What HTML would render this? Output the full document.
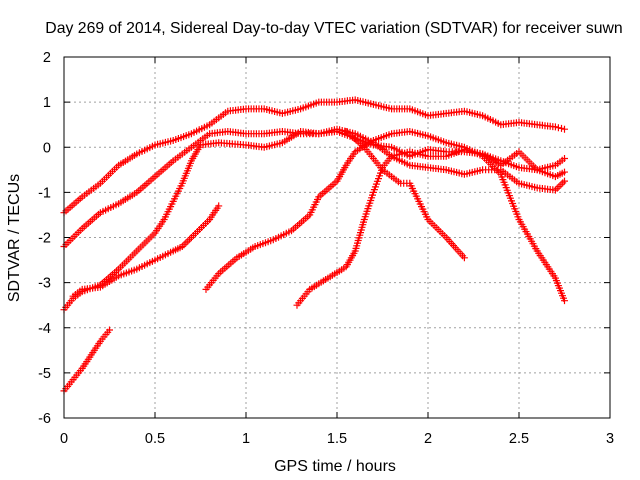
<!DOCTYPE html>
<html><head><meta charset="utf-8"><style>
html,body{margin:0;padding:0;background:#fff}
svg{display:block;font-family:"Liberation Sans",sans-serif}
</style></head><body>
<svg id="chart" width="640" height="480" viewBox="0 0 640 480">
<rect width="640" height="480" fill="#fff"/>
<g id="grid"></g>
<g id="series"></g>
<rect x="64" y="57" width="546" height="361" fill="none" stroke="#000" stroke-width="1"/>
<g id="ticks"></g>
<text x="334" y="33" text-anchor="middle" font-size="15.8" fill="#000">Day 269 of 2014, Sidereal Day-to-day VTEC variation (SDTVAR) for receiver suwn</text>
<text x="335" y="471" text-anchor="middle" font-size="16">GPS time / hours</text>
<text x="19" y="238" text-anchor="middle" font-size="16" transform="rotate(-90 19 238)">SDTVAR / TECUs</text>
</svg>
<script>
const xTicks=[0,0.5,1,1.5,2,2.5,3];
const xTickLabels=["0","0.5","1","1.5","2","2.5","3"];
const yTicks=[2,1,0,-1,-2,-3,-4,-5,-6];
const yTickLabels=["2","1","0","-1","-2","-3","-4","-5","-6"];
const seriesA=[[0,-1.45],[0.1,-1.1],[0.2,-0.8],[0.3,-0.4],[0.4,-0.15],[0.5,0.05],[0.6,0.15],[0.7,0.3],[0.8,0.5],[0.9,0.8],[1.0,0.85],[1.1,0.85],[1.2,0.75],[1.3,0.85],[1.4,1.0],[1.5,1.0],[1.6,1.05],[1.7,0.95],[1.8,0.85],[1.9,0.85],[2.0,0.7],[2.1,0.75],[2.2,0.8],[2.3,0.7],[2.4,0.5],[2.5,0.55],[2.6,0.5],[2.7,0.45],[2.75,0.4]];
const seriesB=[[0,-2.2],[0.1,-1.8],[0.2,-1.45],[0.3,-1.25],[0.4,-1.0],[0.5,-0.65],[0.6,-0.3],[0.7,0.0],[0.8,0.3],[0.9,0.35],[1.0,0.3],[1.1,0.3],[1.2,0.35],[1.3,0.3],[1.4,0.3],[1.5,0.4],[1.6,0.3],[1.7,0.1],[1.8,-0.2],[1.9,-0.4],[2.0,-0.45],[2.1,-0.5],[2.2,-0.6],[2.3,-0.5],[2.4,-0.5],[2.5,-0.8],[2.6,-0.9],[2.7,-0.95],[2.75,-0.75]];
const seriesC=[[0,-3.6],[0.05,-3.35],[0.1,-3.2],[0.2,-3.05],[0.3,-2.7],[0.4,-2.3],[0.5,-1.9],[0.55,-1.6],[0.6,-1.2],[0.65,-0.8],[0.7,-0.3],[0.75,0.05],[0.85,0.1],[1.0,0.05],[1.1,0.0],[1.2,0.1],[1.3,0.35],[1.4,0.3],[1.5,0.35],[1.6,0.2],[1.7,0.05],[1.8,0.0],[1.9,-0.2],[2.0,-0.05],[2.1,-0.1],[2.2,-0.1],[2.3,-0.15],[2.4,-0.3],[2.5,-0.45],[2.6,-0.5],[2.7,-0.4],[2.75,-0.25]];
const seriesD=[[0.05,-3.3],[0.1,-3.15],[0.2,-3.1],[0.3,-2.85],[0.4,-2.7],[0.5,-2.5],[0.6,-2.3],[0.65,-2.2],[0.7,-2.0],[0.8,-1.6],[0.85,-1.3]];
const seriesE=[[0,-5.4],[0.05,-5.15],[0.1,-4.9],[0.15,-4.6],[0.2,-4.3],[0.25,-4.05]];
const seriesF=[[0.78,-3.15],[0.85,-2.8],[0.95,-2.45],[1.05,-2.2],[1.15,-2.05],[1.25,-1.85],[1.35,-1.5],[1.4,-1.1],[1.5,-0.75],[1.55,-0.4],[1.6,-0.1],[1.7,0.15],[1.8,0.3],[1.9,0.35],[2.0,0.25],[2.1,0.1],[2.2,0.0],[2.3,-0.2],[2.4,-0.6],[2.5,-1.6],[2.6,-2.3],[2.7,-2.9],[2.75,-3.4]];
const seriesG=[[1.28,-3.5],[1.35,-3.15],[1.45,-2.9],[1.55,-2.65],[1.6,-2.3],[1.65,-1.6],[1.7,-1.0],[1.75,-0.45],[1.8,-0.2],[1.9,-0.1],[2.0,-0.2],[2.1,-0.2],[2.2,-0.05],[2.3,-0.15],[2.4,-0.4],[2.5,-0.1],[2.6,-0.5],[2.7,-0.65],[2.75,-0.55]];
const seriesH=[[1.55,0.35],[1.65,0.0],[1.75,-0.5],[1.85,-0.8],[1.9,-0.8],[2.0,-1.6],[2.1,-2.0],[2.2,-2.45]];
const allSeries=[seriesA,seriesB,seriesC,seriesD,seriesE,seriesF,seriesG,seriesH];
const NS="http://www.w3.org/2000/svg";
const X0=64,X1=610,Y0=57,Y1=418;
function xs(v){return X0+(v-0)/3*(X1-X0);}
function ys(v){return Y0+(2-v)/8*(Y1-Y0);}
const grid=document.getElementById('grid'),ticks=document.getElementById('ticks'),ser=document.getElementById('series');
function mk(tag,attrs,parent){const e=document.createElementNS(NS,tag);for(const k in attrs)e.setAttribute(k,attrs[k]);parent.appendChild(e);return e;}
xTicks.forEach((t,i)=>{const x=xs(t);
 if(i>0&&i<xTicks.length-1){const g=mk('line',{x1:x,x2:x,y1:Y0,y2:Y1,stroke:'#a0a0a0','stroke-dasharray':'2,3'},grid);
 }
 const tk=mk('path',{d:`M${x} ${Y1}v-6M${x} ${Y0}v6`,stroke:'#000'},ticks);
 
 const l=mk('text',{x:x,y:443,'text-anchor':'middle','font-size':14.5},ticks);l.textContent=xTickLabels[i];
 });
yTicks.forEach((t,i)=>{const y=ys(t);
 if(i>0&&i<yTicks.length-1){const g=mk('line',{x1:X0,x2:X1,y1:y,y2:y,stroke:'#a0a0a0','stroke-dasharray':'2,3'},grid);
 }
 const tk=mk('path',{d:`M${X0} ${y}h6M${X1} ${y}h-6`,stroke:'#000'},ticks);
 
 const l=mk('text',{x:51,y:y+5,'text-anchor':'end','font-size':14.5},ticks);l.textContent=yTickLabels[i];
 });
allSeries.forEach((s,si)=>{
 const g=mk('g',{},ser);
 
 
 let d='';
 for(let i=0;i<s.length-1;i++){
  const ax=xs(s[i][0]),ay=ys(s[i][1]),bx=xs(s[i+1][0]),by=ys(s[i+1][1]);
  const len=Math.hypot(bx-ax,by-ay),n=Math.max(1,Math.round(len/2.8));
  for(let k=0;k<n;k++){const px=ax+(bx-ax)*k/n,py=ay+(by-ay)*k/n;d+=`M${(px-3.5).toFixed(1)} ${py.toFixed(1)}h7M${px.toFixed(1)} ${(py-3.5).toFixed(1)}v7`;}
 }
 const last=s[s.length-1];const lx=xs(last[0]),ly=ys(last[1]);
 d+=`M${lx-3.5} ${ly}h7M${lx} ${ly-3.5}v7`;
 const p=mk('path',{d:d,stroke:'#ff0000','stroke-width':1.2,fill:'none'},g);
 
 
});
</script>
</body></html>
